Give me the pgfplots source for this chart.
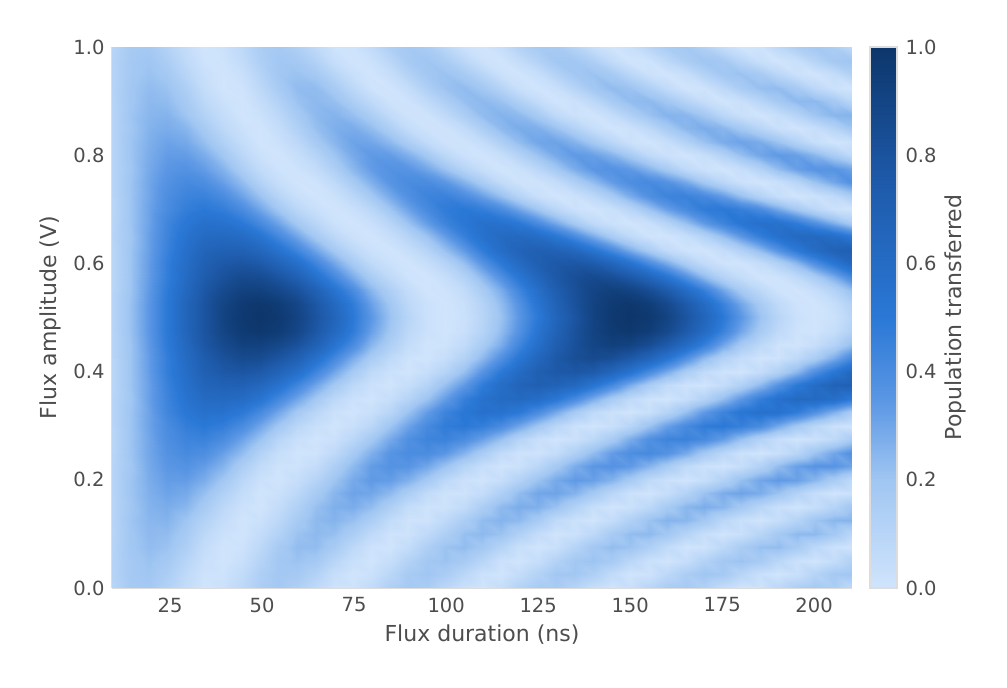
\documentclass[border=0pt]{standalone}
\usepackage{fontspec}
\setmainfont{DejaVu Sans}
\usepackage{pgfplots}
\pgfplotsset{compat=1.18}
\definecolor{txt}{HTML}{4D4D4D}
\definecolor{spine}{HTML}{DDDDDD}
\pgfplotsset{colormap={flux}{
  rgb255(0cm)=(208,228,252)
  rgb255(2cm)=(160,198,242)
  rgb255(3.5cm)=(90,150,228)
  rgb255(5cm)=(42,120,214)
  rgb255(7.5cm)=(30,90,170)
  rgb255(10cm)=(13,54,107)
},
  every axis/.append style={
    scale only axis, height=541pt,
    major tick style={draw=none},
    /pgf/number format/assume math mode=true,
    tick label style={font=\fontsize{19.5}{21}\selectfont,text=txt},
    label style={font=\fontsize{22}{24}\selectfont,text=txt},
    colormap name=flux, point meta min=0, point meta max=1,
  }
}
\begin{document}
\begin{tikzpicture}[x=1pt,y=1pt]
\path[use as bounding box] (0,0) rectangle (1007,688);
\begin{axis}[
  at={(112pt,100pt)}, anchor=south west,
  width=740pt,
  xmin=9.2, xmax=210.3, ymin=0, ymax=1,
  axis x line*=bottom, axis y line*=left,
  axis line style={-,draw=spine,line width=1.5pt},
  xtick={25,50,...,200}, ytick={0,0.2,...,1},
  yticklabel style={/pgf/number format/fixed,/pgf/number format/precision=1,/pgf/number format/fixed zerofill,xshift=-4pt},
  xticklabel style={yshift=-6pt},
  xlabel={Flux duration (ns)}, ylabel={Flux amplitude (V)},
  xlabel style={at={(axis description cs:0.5,-0.0869)},anchor=center},
  ylabel style={at={(axis description cs:-0.0838,0.5)},anchor=center},
]
\addplot[surf, shader=interp, mesh/cols=41, point meta=explicit] table[
  row sep=\\, header=false, meta index=0,
  x expr={9.2+5.0275*mod(\coordindex,41)},
  y expr={0.025*floor(\coordindex/41)}] {
.10\\.17\\.18\\.12\\.05\\0\\.02\\.08\\.15\\.18\\.14\\.07\\.01\\.01\\.06\\.14\\.18\\.16\\.09\\.02\\0\\.04\\.12\\.17\\.17\\.11\\.04\\0\\.03\\.10\\.16\\.18\\.13\\.05\\0\\.01\\.08\\.15\\.18\\.15\\.07\\
.11\\.18\\.20\\.15\\.07\\.01\\.01\\.06\\.14\\.19\\.18\\.12\\.04\\0\\.02\\.09\\.17\\.20\\.16\\.09\\.02\\0\\.05\\.12\\.19\\.19\\.14\\.06\\0\\.01\\.08\\.15\\.20\\.18\\.10\\.03\\0\\.03\\.11\\.18\\.20\\
.11\\.18\\.21\\.18\\.10\\.03\\0\\.03\\.11\\.19\\.21\\.18\\.10\\.03\\0\\.04\\.12\\.19\\.21\\.17\\.10\\.02\\0\\.04\\.12\\.19\\.21\\.17\\.09\\.02\\0\\.04\\.12\\.19\\.21\\.17\\.09\\.02\\0\\.05\\.13\\
.11\\.19\\.23\\.21\\.14\\.05\\0\\.01\\.08\\.17\\.23\\.23\\.17\\.08\\.01\\0\\.05\\.14\\.21\\.23\\.19\\.11\\.03\\0\\.03\\.11\\.19\\.23\\.21\\.14\\.06\\0\\.01\\.08\\.16\\.22\\.23\\.17\\.08\\.02\\0\\
.10\\.19\\.24\\.23\\.17\\.08\\.02\\0\\.05\\.12\\.21\\.24\\.22\\.15\\.07\\.01\\.01\\.07\\.14\\.22\\.24\\.21\\.13\\.05\\0\\.02\\.08\\.17\\.23\\.24\\.19\\.11\\.04\\0\\.03\\.10\\.18\\.24\\.24\\.18\\.09\\
.10\\.20\\.25\\.26\\.20\\.12\\.05\\0\\.02\\.08\\.17\\.24\\.26\\.22\\.15\\.06\\.01\\.01\\.07\\.15\\.23\\.26\\.24\\.17\\.07\\.02\\0\\.05\\.13\\.21\\.26\\.25\\.19\\.09\\.03\\0\\.04\\.11\\.20\\.25\\.26\\
.10\\.19\\.26\\.28\\.25\\.17\\.08\\.02\\0\\.05\\.13\\.22\\.27\\.28\\.23\\.14\\.05\\.01\\.01\\.06\\.15\\.24\\.28\\.27\\.21\\.12\\.04\\0\\.02\\.08\\.17\\.25\\.28\\.25\\.18\\.10\\.03\\0\\.04\\.11\\.20\\
.10\\.20\\.27\\.31\\.29\\.22\\.13\\.05\\0\\.02\\.08\\.17\\.25\\.31\\.30\\.24\\.15\\.06\\.01\\.01\\.05\\.14\\.23\\.30\\.31\\.26\\.18\\.09\\.02\\0\\.04\\.12\\.21\\.28\\.31\\.28\\.21\\.12\\.04\\0\\.02\\
.10\\.20\\.28\\.33\\.33\\.28\\.19\\.09\\.02\\0\\.04\\.11\\.20\\.29\\.34\\.33\\.27\\.18\\.08\\.02\\0\\.04\\.12\\.21\\.29\\.34\\.32\\.26\\.17\\.07\\.02\\0\\.04\\.12\\.22\\.30\\.34\\.32\\.25\\.16\\.07\\
.10\\.19\\.29\\.35\\.37\\.33\\.26\\.15\\.06\\.01\\.01\\.05\\.14\\.24\\.33\\.37\\.36\\.30\\.21\\.11\\.04\\0\\.02\\.09\\.18\\.28\\.35\\.37\\.34\\.26\\.17\\.07\\.02\\0\\.04\\.12\\.23\\.32\\.36\\.36\\.31\\
.10\\.20\\.30\\.37\\.41\\.39\\.32\\.23\\.12\\.04\\0\\.01\\.07\\.17\\.27\\.36\\.40\\.40\\.35\\.26\\.16\\.06\\.01\\.01\\.05\\.14\\.23\\.33\\.39\\.41\\.37\\.29\\.18\\.09\\.02\\0\\.03\\.10\\.21\\.30\\.38\\
.09\\.20\\.30\\.39\\.44\\.45\\.40\\.31\\.21\\.10\\.03\\0\\.02\\.09\\.18\\.29\\.38\\.44\\.45\\.40\\.32\\.22\\.11\\.03\\0\\.02\\.08\\.17\\.28\\.38\\.44\\.45\\.41\\.33\\.22\\.12\\.04\\0\\.02\\.07\\.16\\
.09\\.20\\.31\\.40\\.47\\.50\\.47\\.40\\.30\\.19\\.09\\.03\\0\\.03\\.09\\.20\\.31\\.41\\.48\\.50\\.47\\.40\\.30\\.19\\.09\\.02\\0\\.03\\.10\\.21\\.32\\.41\\.48\\.50\\.46\\.40\\.29\\.18\\.09\\.02\\0\\
.10\\.20\\.31\\.43\\.51\\.56\\.55\\.50\\.41\\.30\\.18\\.09\\.02\\0\\.03\\.10\\.21\\.33\\.44\\.51\\.56\\.55\\.50\\.40\\.29\\.17\\.07\\.02\\0\\.03\\.11\\.22\\.34\\.44\\.52\\.56\\.55\\.48\\.38\\.27\\.16\\
.10\\.19\\.32\\.44\\.54\\.61\\.62\\.60\\.53\\.42\\.30\\.18\\.08\\.02\\0\\.04\\.11\\.21\\.33\\.46\\.55\\.61\\.62\\.59\\.51\\.40\\.28\\.16\\.07\\.01\\0\\.04\\.12\\.23\\.35\\.47\\.56\\.62\\.62\\.58\\.49\\
.09\\.20\\.32\\.45\\.57\\.66\\.69\\.69\\.64\\.55\\.43\\.30\\.18\\.08\\.02\\0\\.04\\.11\\.22\\.34\\.48\\.59\\.67\\.70\\.68\\.63\\.53\\.41\\.28\\.16\\.06\\.01\\0\\.05\\.13\\.24\\.37\\.50\\.60\\.68\\.70\\
.09\\.20\\.33\\.47\\.59\\.70\\.76\\.78\\.75\\.67\\.57\\.43\\.30\\.17\\.07\\.02\\0\\.04\\.11\\.22\\.36\\.50\\.61\\.71\\.76\\.77\\.74\\.65\\.54\\.40\\.28\\.15\\.06\\.01\\0\\.05\\.13\\.25\\.39\\.52\\.64\\
.09\\.20\\.33\\.47\\.61\\.73\\.81\\.86\\.85\\.79\\.70\\.56\\.42\\.28\\.16\\.07\\.01\\0\\.04\\.12\\.24\\.38\\.52\\.65\\.76\\.83\\.86\\.83\\.76\\.66\\.53\\.38\\.24\\.12\\.05\\0\\.01\\.07\\.16\\.28\\.42\\
.10\\.20\\.34\\.49\\.63\\.77\\.86\\.92\\.92\\.88\\.81\\.69\\.54\\.40\\.25\\.14\\.05\\0\\.01\\.06\\.16\\.28\\.43\\.58\\.72\\.82\\.90\\.93\\.91\\.84\\.74\\.60\\.46\\.30\\.17\\.08\\.01\\0\\.04\\.12\\.23\\
.10\\.21\\.35\\.50\\.66\\.79\\.90\\.97\\.99\\.96\\.89\\.77\\.63\\.48\\.32\\.19\\.08\\.02\\0\\.03\\.11\\.23\\.37\\.53\\.68\\.81\\.91\\.97\\.99\\.95\\.87\\.75\\.61\\.45\\.30\\.17\\.07\\.01\\0\\.04\\.13\\
.10\\.21\\.35\\.50\\.66\\.79\\.91\\.98\\1\\.98\\.91\\.79\\.66\\.50\\.35\\.21\\.10\\.02\\0\\.02\\.10\\.21\\.35\\.50\\.66\\.79\\.91\\.98\\1\\.98\\.91\\.79\\.66\\.50\\.35\\.21\\.10\\.02\\0\\.02\\.10\\
.10\\.21\\.35\\.50\\.66\\.79\\.90\\.97\\.99\\.96\\.89\\.77\\.63\\.48\\.32\\.19\\.08\\.02\\0\\.03\\.11\\.23\\.37\\.53\\.68\\.81\\.91\\.97\\.99\\.95\\.87\\.75\\.61\\.45\\.30\\.17\\.07\\.01\\0\\.04\\.13\\
.10\\.20\\.34\\.49\\.63\\.77\\.86\\.92\\.92\\.88\\.81\\.69\\.54\\.40\\.25\\.14\\.05\\0\\.01\\.06\\.16\\.28\\.43\\.58\\.72\\.82\\.90\\.93\\.91\\.84\\.74\\.60\\.46\\.30\\.17\\.08\\.01\\0\\.04\\.12\\.23\\
.09\\.20\\.33\\.47\\.61\\.73\\.81\\.86\\.85\\.79\\.70\\.56\\.42\\.28\\.16\\.07\\.01\\0\\.04\\.12\\.24\\.38\\.52\\.65\\.76\\.83\\.86\\.83\\.76\\.66\\.53\\.38\\.24\\.12\\.05\\0\\.01\\.07\\.16\\.28\\.42\\
.09\\.20\\.33\\.47\\.59\\.70\\.76\\.78\\.75\\.67\\.57\\.43\\.30\\.17\\.07\\.02\\0\\.04\\.11\\.22\\.36\\.50\\.61\\.71\\.76\\.77\\.74\\.65\\.54\\.40\\.28\\.15\\.06\\.01\\0\\.05\\.13\\.25\\.39\\.52\\.64\\
.09\\.20\\.32\\.45\\.57\\.66\\.69\\.69\\.64\\.55\\.43\\.30\\.18\\.08\\.02\\0\\.04\\.11\\.22\\.34\\.48\\.59\\.67\\.70\\.68\\.63\\.53\\.41\\.28\\.16\\.06\\.01\\0\\.05\\.13\\.24\\.37\\.50\\.60\\.68\\.70\\
.10\\.19\\.32\\.44\\.54\\.61\\.62\\.60\\.53\\.42\\.30\\.18\\.08\\.02\\0\\.04\\.11\\.21\\.33\\.46\\.55\\.61\\.62\\.59\\.51\\.40\\.28\\.16\\.07\\.01\\0\\.04\\.12\\.23\\.35\\.47\\.56\\.62\\.62\\.58\\.49\\
.10\\.20\\.31\\.43\\.51\\.56\\.55\\.50\\.41\\.30\\.18\\.09\\.02\\0\\.03\\.10\\.21\\.33\\.44\\.51\\.56\\.55\\.50\\.40\\.29\\.17\\.07\\.02\\0\\.03\\.11\\.22\\.34\\.44\\.52\\.56\\.55\\.48\\.38\\.27\\.16\\
.09\\.20\\.31\\.40\\.47\\.50\\.47\\.40\\.30\\.19\\.09\\.03\\0\\.03\\.09\\.20\\.31\\.41\\.48\\.50\\.47\\.40\\.30\\.19\\.09\\.02\\0\\.03\\.10\\.21\\.32\\.41\\.48\\.50\\.46\\.40\\.29\\.18\\.09\\.02\\0\\
.09\\.20\\.30\\.39\\.44\\.45\\.40\\.31\\.21\\.10\\.03\\0\\.02\\.09\\.18\\.29\\.38\\.44\\.45\\.40\\.32\\.22\\.11\\.03\\0\\.02\\.08\\.17\\.28\\.38\\.44\\.45\\.41\\.33\\.22\\.12\\.04\\0\\.02\\.07\\.16\\
.10\\.20\\.30\\.37\\.41\\.39\\.32\\.23\\.12\\.04\\0\\.01\\.07\\.17\\.27\\.36\\.40\\.40\\.35\\.26\\.16\\.06\\.01\\.01\\.05\\.14\\.23\\.33\\.39\\.41\\.37\\.29\\.18\\.09\\.02\\0\\.03\\.10\\.21\\.30\\.38\\
.10\\.19\\.29\\.35\\.37\\.33\\.26\\.15\\.06\\.01\\.01\\.05\\.14\\.24\\.33\\.37\\.36\\.30\\.21\\.11\\.04\\0\\.02\\.09\\.18\\.28\\.35\\.37\\.34\\.26\\.17\\.07\\.02\\0\\.04\\.12\\.23\\.32\\.36\\.36\\.31\\
.10\\.20\\.28\\.33\\.33\\.28\\.19\\.09\\.02\\0\\.04\\.11\\.20\\.29\\.34\\.33\\.27\\.18\\.08\\.02\\0\\.04\\.12\\.21\\.29\\.34\\.32\\.26\\.17\\.07\\.02\\0\\.04\\.12\\.22\\.30\\.34\\.32\\.25\\.16\\.07\\
.10\\.20\\.27\\.31\\.29\\.22\\.13\\.05\\0\\.02\\.08\\.17\\.25\\.31\\.30\\.24\\.15\\.06\\.01\\.01\\.05\\.14\\.23\\.30\\.31\\.26\\.18\\.09\\.02\\0\\.04\\.12\\.21\\.28\\.31\\.28\\.21\\.12\\.04\\0\\.02\\
.10\\.19\\.26\\.28\\.25\\.17\\.08\\.02\\0\\.05\\.13\\.22\\.27\\.28\\.23\\.14\\.05\\.01\\.01\\.06\\.15\\.24\\.28\\.27\\.21\\.12\\.04\\0\\.02\\.08\\.17\\.25\\.28\\.25\\.18\\.10\\.03\\0\\.04\\.11\\.20\\
.10\\.20\\.25\\.26\\.20\\.12\\.05\\0\\.02\\.08\\.17\\.24\\.26\\.22\\.15\\.06\\.01\\.01\\.07\\.15\\.23\\.26\\.24\\.17\\.07\\.02\\0\\.05\\.13\\.21\\.26\\.25\\.19\\.09\\.03\\0\\.04\\.11\\.20\\.25\\.26\\
.10\\.19\\.24\\.23\\.17\\.08\\.02\\0\\.05\\.12\\.21\\.24\\.22\\.15\\.07\\.01\\.01\\.07\\.14\\.22\\.24\\.21\\.13\\.05\\0\\.02\\.08\\.17\\.23\\.24\\.19\\.11\\.04\\0\\.03\\.10\\.18\\.24\\.24\\.18\\.09\\
.11\\.19\\.23\\.21\\.14\\.05\\0\\.01\\.08\\.17\\.23\\.23\\.17\\.08\\.01\\0\\.05\\.14\\.21\\.23\\.19\\.11\\.03\\0\\.03\\.11\\.19\\.23\\.21\\.14\\.06\\0\\.01\\.08\\.16\\.22\\.23\\.17\\.08\\.02\\0\\
.11\\.18\\.21\\.18\\.10\\.03\\0\\.03\\.11\\.19\\.21\\.18\\.10\\.03\\0\\.04\\.12\\.19\\.21\\.17\\.10\\.02\\0\\.04\\.12\\.19\\.21\\.17\\.09\\.02\\0\\.04\\.12\\.19\\.21\\.17\\.09\\.02\\0\\.05\\.13\\
.11\\.18\\.20\\.15\\.07\\.01\\.01\\.06\\.14\\.19\\.18\\.12\\.04\\0\\.02\\.09\\.17\\.20\\.16\\.09\\.02\\0\\.05\\.12\\.19\\.19\\.14\\.06\\0\\.01\\.08\\.15\\.20\\.18\\.10\\.03\\0\\.03\\.11\\.18\\.20\\
.10\\.17\\.18\\.12\\.05\\0\\.02\\.08\\.15\\.18\\.14\\.07\\.01\\.01\\.06\\.14\\.18\\.16\\.09\\.02\\0\\.04\\.12\\.17\\.17\\.11\\.04\\0\\.03\\.10\\.16\\.18\\.13\\.05\\0\\.01\\.08\\.15\\.18\\.15\\.07\\
};
\end{axis}
% colour bar as its own small axis
\begin{axis}[
  at={(870pt,100pt)}, anchor=south west,
  width=27pt,
  xmin=0, xmax=1, ymin=0, ymax=1,
  xtick=\empty, ytick={0,0.2,...,1}, yticklabel pos=right,
  axis line style={draw=spine,line width=1.5pt},
  axis on top,
  yticklabel style={/pgf/number format/fixed,/pgf/number format/precision=1,/pgf/number format/fixed zerofill,xshift=5pt},
  ylabel={Population transferred},
  ylabel style={at={(axis description cs:3.148,0.5)},anchor=center,rotate=0},
]
\addplot[surf, shader=interp, mesh/cols=2, point meta=explicit] table[meta index=2] {
x y c
0 0 0
1 0 0
0 0.2 0.2
1 0.2 0.2
0 0.35 0.35
1 0.35 0.35
0 0.5 0.5
1 0.5 0.5
0 0.75 0.75
1 0.75 0.75
0 1 1
1 1 1
};
\end{axis}
\end{tikzpicture}
\end{document}
